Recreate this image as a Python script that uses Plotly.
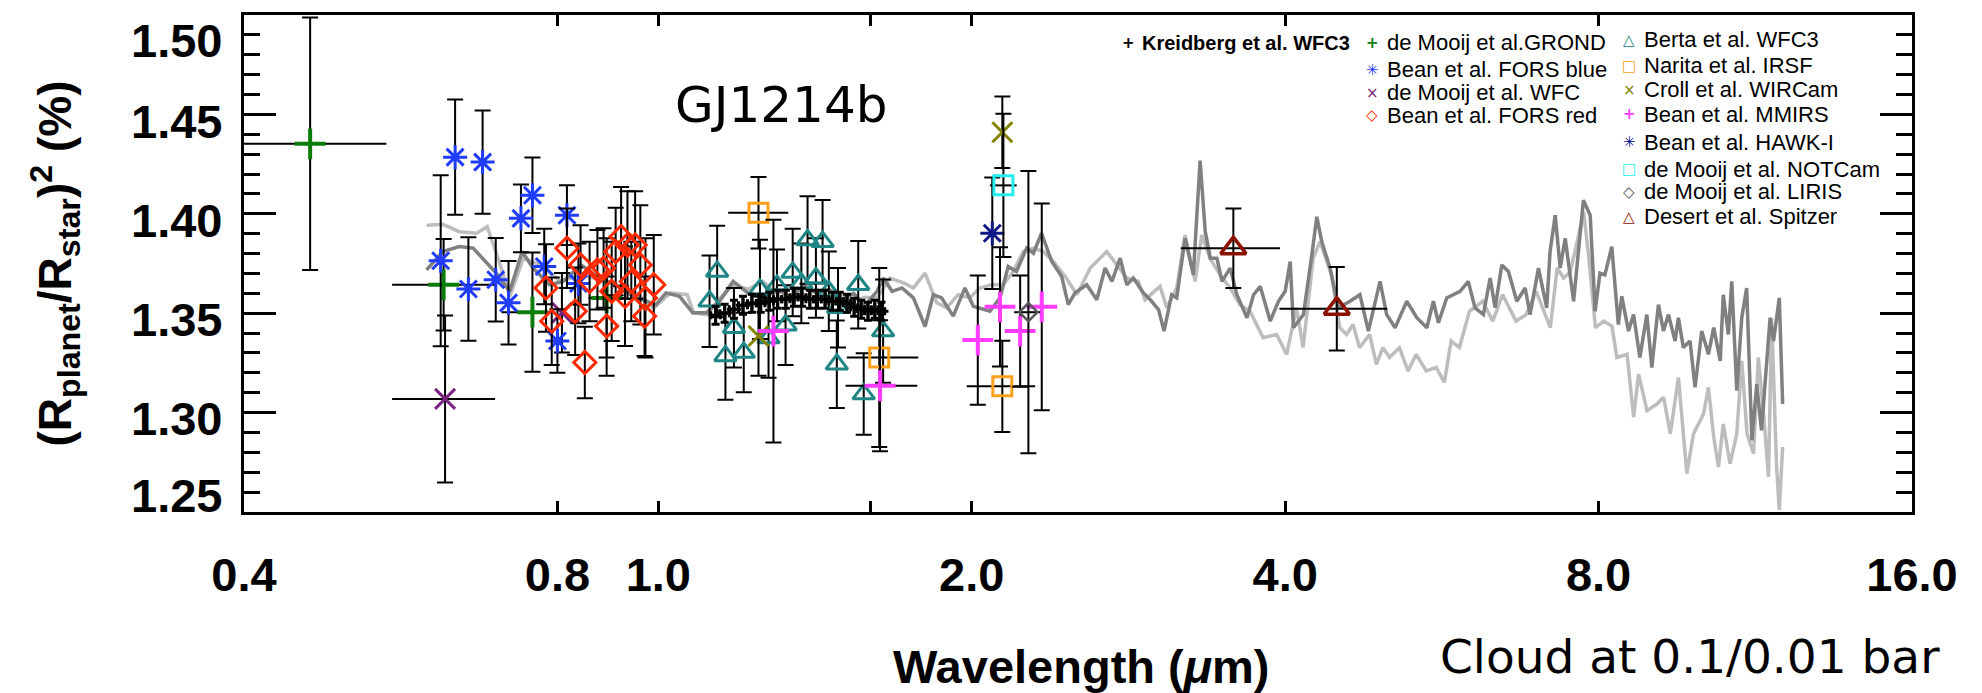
import plotly.graph_objects as go

# ---------------- model transmission spectra ----------------
# dark grey: cloud deck at 0.1 bar, light grey: cloud deck at 0.01 bar
model_dark_wl = [0.599, 0.621, 0.644, 0.664, 0.699, 0.720, 0.740, 0.758, 0.786, 0.810,
                 0.843, 0.878, 0.911, 0.945, 0.995, 1.017, 1.048, 1.079, 1.112, 1.145,
                 1.180, 1.22, 1.26, 1.30, 1.34, 1.38, 1.42, 1.46, 1.50, 1.54,
                 1.58, 1.622, 1.645, 1.677, 1.714, 1.758, 1.804, 1.837, 1.871, 1.920,
                 1.970, 2.007, 2.082, 2.129, 2.168, 2.208, 2.258, 2.292, 2.334, 2.387,
                 2.440, 2.476, 2.513, 2.579, 2.637, 2.686, 2.727, 2.777, 2.818, 2.859,
                 2.924, 2.968, 3.023, 3.060, 3.112, 3.147, 3.206, 3.265, 3.314, 3.352,
                 3.39, 3.44, 3.478, 3.542, 3.595, 3.676, 3.730, 3.786, 3.870, 3.941,
                 4.0, 4.045, 4.074, 4.165, 4.243, 4.290, 4.337, 4.418, 4.499, 4.617,
                 4.719, 4.808, 4.934, 5.007, 5.101, 5.234, 5.352, 5.472, 5.551, 5.614,
                 5.718, 5.889, 5.997, 6.087, 6.201, 6.294, 6.364, 6.459, 6.554, 6.677,
                 6.801, 6.875, 7.004, 7.133, 7.186, 7.268, 7.349, 7.431, 7.570, 7.736,
                 7.853, 7.939, 8.025, 8.112, 8.237, 8.357, 8.421, 8.547, 8.643, 8.765,
                 8.901, 9.0, 9.132, 9.235, 9.337, 9.475, 9.544, 9.650, 9.793, 9.903,
                 10.05, 10.20, 10.32, 10.47, 10.54, 10.66, 10.74, 10.86, 10.98, 11.10,
                 11.23, 11.35, 11.47, 11.60, 11.69, 11.78, 11.86, 11.93, 12.02]
model_dark_depth = [1.3718, 1.381, 1.3835, 1.3827, 1.370, 1.361, 1.381, 1.3727, 1.3643, 1.366,
                    1.3743, 1.3677, 1.3643, 1.3585, 1.3543, 1.3602, 1.3585, 1.3502, 1.3502, 1.356,
                    1.366, 1.360, 1.357, 1.362, 1.358, 1.364, 1.360, 1.362, 1.357, 1.360,
                    1.354, 1.361, 1.3677, 1.361, 1.3627, 1.3577, 1.3433, 1.3593, 1.3577, 1.3485,
                    1.3627, 1.3535, 1.351, 1.3577, 1.3735, 1.371, 1.3827, 1.3802, 1.3902, 1.376,
                    1.3685, 1.3543, 1.3602, 1.3643, 1.3568, 1.3727, 1.366, 1.3777, 1.3643, 1.3677,
                    1.3602, 1.3568, 1.3518, 1.341, 1.3593, 1.3577, 1.3877, 1.3693, 1.4268, 1.391,
                    1.3777, 1.3777, 1.366, 1.3727, 1.3593, 1.3477, 1.3593, 1.3635, 1.346, 1.356,
                    1.361, 1.376, 1.3427, 1.3493, 1.3793, 1.3985, 1.386, 1.3727, 1.3527, 1.356,
                    1.3593, 1.341, 1.366, 1.3493, 1.3427, 1.356, 1.3477, 1.3427, 1.356, 1.3452,
                    1.3577, 1.361, 1.366, 1.3527, 1.3493, 1.3677, 1.3527, 1.3743, 1.371, 1.356,
                    1.3627, 1.3493, 1.3727, 1.3527, 1.381, 1.3993, 1.3727, 1.3877, 1.356, 1.4068,
                    1.3993, 1.351, 1.3702, 1.3693, 1.3835, 1.3443, 1.3585, 1.341, 1.3493, 1.3277,
                    1.3493, 1.3227, 1.3543, 1.341, 1.3493, 1.336, 1.3477, 1.3327, 1.336, 1.3127,
                    1.341, 1.3293, 1.3427, 1.326, 1.3593, 1.3393, 1.366, 1.311, 1.3477, 1.3627,
                    1.286, 1.3143, 1.291, 1.326, 1.3477, 1.336, 1.3477, 1.3577, 1.3043]

model_light_wl = [0.599, 0.621, 0.644, 0.669, 0.685, 0.705, 0.720, 0.742, 0.770, 0.805,
                  0.842, 0.893, 0.947, 0.990, 1.027, 1.066, 1.081, 1.113, 1.147, 1.181,
                  1.22, 1.26, 1.30, 1.34, 1.38, 1.42, 1.46, 1.50, 1.54, 1.58,
                  1.622, 1.669, 1.720, 1.758, 1.804, 1.851, 1.892, 1.941, 1.991, 2.036,
                  2.090, 2.144, 2.192, 2.241, 2.292, 2.343, 2.396, 2.459, 2.524, 2.599,
                  2.696, 2.757, 2.818, 2.891, 2.934, 3.033, 3.079, 3.147, 3.206, 3.278,
                  3.326, 3.387, 3.464, 3.541, 3.619, 3.700, 3.810, 3.925, 4.013, 4.102,
                  4.162, 4.256, 4.320, 4.431, 4.514, 4.581, 4.648, 4.715, 4.822, 4.894,
                  4.965, 5.039, 5.150, 5.248, 5.345, 5.464, 5.586, 5.688, 5.774, 5.881,
                  6.013, 6.191, 6.33, 6.47, 6.665, 6.815, 6.968, 7.19, 7.30, 7.405,
                  7.517, 7.63, 7.74, 7.83, 7.945, 8.09, 8.24, 8.33, 8.52, 8.645,
                  8.74, 8.905, 9.10, 9.237, 9.375, 9.545, 9.725, 9.868, 10.09, 10.2,
                  10.32, 10.43, 10.54, 10.70, 10.86, 10.98, 11.11, 11.27, 11.39, 11.53,
                  11.65, 11.73, 11.86, 11.93, 12.02]
model_light_depth = [1.3943, 1.3947, 1.391, 1.3902, 1.3935, 1.3743, 1.3585, 1.3777, 1.3743, 1.366,
                     1.3693, 1.366, 1.361, 1.3527, 1.3602, 1.3593, 1.3502, 1.3493, 1.3577, 1.3643,
                     1.362, 1.366, 1.360, 1.364, 1.358, 1.362, 1.358, 1.360, 1.356, 1.358,
                     1.3577, 1.3677, 1.3652, 1.3627, 1.3702, 1.3552, 1.3527, 1.3593, 1.3577, 1.3627,
                     1.3643, 1.3643, 1.371, 1.381, 1.3827, 1.381, 1.376, 1.3685, 1.3593, 1.3727,
                     1.381, 1.3743, 1.3677, 1.366, 1.3568, 1.3635, 1.3527, 1.3627, 1.3893, 1.366,
                     1.3893, 1.3777, 1.3693, 1.3627, 1.3543, 1.351, 1.3377, 1.3393, 1.3293, 1.3527,
                     1.3327, 1.3777, 1.386, 1.3693, 1.3427, 1.3393, 1.3443, 1.3327, 1.3393, 1.3243,
                     1.3327, 1.3277, 1.3327, 1.321, 1.3293, 1.321, 1.3227, 1.3152, 1.336, 1.3327,
                     1.351, 1.356, 1.346, 1.3593, 1.346, 1.3493, 1.361, 1.3427, 1.3727, 1.3677,
                     1.371, 1.386, 1.401, 1.3777, 1.3427, 1.346, 1.3435, 1.3277, 1.3293, 1.2977,
                     1.3193, 1.301, 1.3043, 1.3077, 1.2893, 1.3177, 1.2693, 1.2893, 1.2993, 1.3127,
                     1.2877, 1.2727, 1.2943, 1.2743, 1.2893, 1.326, 1.2893, 1.2793, 1.3277, 1.2977,
                     1.2677, 1.3477, 1.2727, 1.251, 1.2827]

# ---------------- observations: wavelength (um), depth (%), errors ----------------
kreidberg_wl = [1.135, 1.158, 1.182, 1.206, 1.230, 1.254, 1.278, 1.302, 1.326, 1.350, 1.374,
                1.398, 1.422, 1.446, 1.470, 1.494, 1.518, 1.542, 1.566, 1.590, 1.614, 1.638]
kreidberg_depth = [1.349, 1.350, 1.352, 1.354, 1.355, 1.355, 1.356, 1.357, 1.357, 1.358, 1.358,
                   1.357, 1.357, 1.357, 1.356, 1.356, 1.355, 1.353, 1.352, 1.351, 1.352, 1.351]
kreidberg_err = [0.0045] * 22
kreidberg_wl_err = [0.012] * 22

grond_wl = [0.463, 0.622, 0.757, 0.892]
grond_depth = [1.4352, 1.3643, 1.3505, 1.3577]
grond_err = [0.0635, 0.023, 0.030, 0.030]
grond_wl_minus = [0.073, 0.067, 0.050, 0.035]
grond_wl_plus = [0.085, 0.075, 0.030, 0.035]

fors_blue_wl = [0.618, 0.638, 0.678, 0.657, 0.698, 0.718, 0.738, 0.757, 0.777, 0.817, 0.838, 0.800]
fors_blue_depth = [1.3764, 1.4285, 1.426, 1.3622, 1.3668, 1.3552, 1.3977, 1.4093, 1.3735, 1.3993, 1.365, 1.336]
fors_blue_err = [0.043, 0.029, 0.026, 0.026, 0.021, 0.021, 0.017, 0.019, 0.019, 0.015, 0.020, 0.016]

wfc_wl = [0.624, 0.808]
wfc_depth = [1.3069, 1.3502]
wfc_err = [0.042, 0.020]
wfc_wl_minus = [0.069, 0.0]
wfc_wl_plus = [0.073, 0.0]

fors_red_wl = [0.817, 0.780, 0.842, 0.859, 0.832, 0.790, 0.874, 0.886, 0.892, 0.850, 0.902,
               0.910, 0.921, 0.934, 0.929, 0.942, 0.950, 0.961, 0.972, 0.990, 0.970]
fors_red_depth = [1.3827, 1.3627, 1.3743, 1.366, 1.351, 1.346, 1.3718, 1.3727, 1.3435, 1.3252, 1.361,
                  1.381, 1.3885, 1.3843, 1.3585, 1.366, 1.3843, 1.3743, 1.3577, 1.3643, 1.3485]
fors_red_err = [0.020, 0.022, 0.020, 0.020, 0.022, 0.022, 0.020, 0.020, 0.025, 0.018, 0.025,
                0.022, 0.025, 0.027, 0.025, 0.020, 0.027, 0.030, 0.030, 0.025, 0.020]

berta_wl = [1.120, 1.139, 1.160, 1.182, 1.208, 1.252, 1.276, 1.300, 1.325, 1.346,
            1.372, 1.391, 1.417, 1.438, 1.458, 1.484, 1.488, 1.556, 1.575, 1.644]
berta_depth = [1.356, 1.371, 1.3285, 1.3427, 1.3302, 1.362, 1.3375, 1.364, 1.344, 1.3705,
               1.365, 1.3868, 1.3677, 1.386, 1.361, 1.3243, 1.3527, 1.3643, 1.3093, 1.341]
berta_err = [0.023, 0.023, 0.022, 0.020, 0.020, 0.025, 0.020, 0.018, 0.020, 0.022,
             0.020, 0.022, 0.020, 0.021, 0.020, 0.022, 0.020, 0.022, 0.0205, 0.026]

narita_wl = [1.248, 1.630, 2.140]
narita_depth = [1.4005, 1.3277, 1.3132]
narita_err = [0.018, 0.045, 0.023]
narita_wl_minus = [0.081, 0.113, 0.162]
narita_wl_plus = [0.085, 0.147, 0.161]

croll_wl = [1.248, 2.140]
croll_depth = [1.3385, 1.441]
croll_err = [0.020, 0.018]

mmirs_wl = [1.290, 1.633, 2.027, 2.129, 2.226, 2.335]
mmirs_depth = [1.341, 1.3135, 1.3365, 1.3532, 1.341, 1.3532]
mmirs_err = [0.056, 0.033, 0.0325, 0.030, 0.028, 0.052]
mmirs_wl_minus = [0.0, 0.120, 0.0, 0.0, 0.0, 0.0]
mmirs_wl_plus = [0.0, 0.140, 0.0, 0.0, 0.0, 0.0]

hawki_wl = [2.093]
hawki_depth = [1.3902]
hawki_err = [0.028]

notcam_wl = [2.145]
notcam_depth = [1.4143]
notcam_err = [0.036]
notcam_wl_minus = [0.063]
notcam_wl_plus = [0.064]

liris_wl = [2.267]
liris_depth = [1.3505]
liris_err = [0.071]
liris_wl_minus = [0.070]
liris_wl_plus = [0.060]

spitzer_wl = [3.567, 4.484]
spitzer_depth = [1.3827, 1.3523]
spitzer_err = [0.020, 0.021]
spitzer_wl_minus = [0.392, 0.534]
spitzer_wl_plus = [0.388, 0.530]

# ---------------- axis ticks ----------------
x_tickvals = [0.4, 0.8, 1.0, 2.0, 4.0, 8.0, 16.0]
x_ticktext = ["0.4", "0.8", "1.0", "2.0", "4.0", "8.0", "16.0"]
x_extra_ticks = [1.6]
y_tickvals = [1.25, 1.30, 1.35, 1.40, 1.45, 1.50]
y_ticktext = ["1.25", "1.30", "1.35", "1.40", "1.45", "1.50"]

# ---------------- legend entries ----------------
legend_labels = ["Kreidberg et al. WFC3",
                 "de Mooij et al.GROND", "Bean et al. FORS blue", "de Mooij et al. WFC", "Bean et al. FORS red",
                 "Berta et al. WFC3", "Narita et al. IRSF", "Croll et al. WIRCam", "Bean et al. MMIRS",
                 "Bean et al. HAWK-I", "de Mooij et al. NOTCam", "de Mooij et al. LIRIS", "Desert et al. Spitzer"]
legend_glyphs = ["+", "+", "\u2733", "\u00d7", "\u25c7", "\u25b3", "\u25a1", "\u00d7", "+",
                 "\u2733", "\u25a1", "\u25c7", "\u25b3"]

GREEN = "#0b7d0b"
BLUE = "#1f3cff"
PURPLE = "#7a2580"
RED = "#ff2a00"
TEAL = "#1f8585"
ORANGE = "#ffa01a"
OLIVE = "#838300"
MAGENTA = "#ff3cff"
NAVY = "#101a86"
CYAN = "#22eeee"
GREY = "#555555"
DARKRED = "#8c1200"
legend_colors = ["black", GREEN, BLUE, PURPLE, RED, TEAL, ORANGE, OLIVE, MAGENTA,
                 NAVY, CYAN, GREY, DARKRED]

W, H = 1982, 693
L, R, T, B = 244, 70, 12, 181
PW, PH = W - L - R, H - T - B


def px_x(px):
    return (px - L) / PW


def px_y(py):
    return (H - B - py) / PH


fig = go.Figure()

fig.add_trace(go.Scatter(x=model_light_wl, y=model_light_depth, mode="lines",
                         line=dict(color="#bdbdbd", width=3.5), showlegend=False))
fig.add_trace(go.Scatter(x=model_dark_wl, y=model_dark_depth, mode="lines",
                         line=dict(color="#808080", width=3.5), showlegend=False))


def add_points(wl, depth, err, symbol, color, size, lw, wl_minus=None, wl_plus=None):
    tr = dict(x=wl, y=depth, mode="markers", showlegend=False,
              marker=dict(symbol=symbol, size=size, color=color,
                          line=dict(color=color, width=lw)),
              error_y=dict(type="data", array=err, color="black", thickness=2, width=8))
    if wl_minus is not None:
        tr["error_x"] = dict(type="data", symmetric=False, array=wl_plus, arrayminus=wl_minus,
                             color="black", thickness=2, width=0)
    fig.add_trace(go.Scatter(**tr))


add_points(grond_wl, grond_depth, grond_err, "cross-thin-open", GREEN, 22, 4, grond_wl_minus, grond_wl_plus)
add_points(wfc_wl, wfc_depth, wfc_err, "x-thin-open", PURPLE, 20, 3, wfc_wl_minus, wfc_wl_plus)
add_points(fors_blue_wl, fors_blue_depth, fors_blue_err, "asterisk-open", BLUE, 20, 3)
add_points(fors_red_wl, fors_red_depth, fors_red_err, "diamond-open", RED, 17, 3)
add_points(berta_wl, berta_depth, berta_err, "triangle-up-open", TEAL, 19, 3)
add_points(narita_wl, narita_depth, narita_err, "square-open", ORANGE, 19, 3, narita_wl_minus, narita_wl_plus)
add_points(croll_wl, croll_depth, croll_err, "x-thin-open", OLIVE, 20, 3)
add_points(mmirs_wl, mmirs_depth, mmirs_err, "cross-thin-open", MAGENTA, 22, 4, mmirs_wl_minus, mmirs_wl_plus)
add_points(hawki_wl, hawki_depth, hawki_err, "asterisk-open", NAVY, 20, 3)
add_points(notcam_wl, notcam_depth, notcam_err, "square-open", CYAN, 19, 3, notcam_wl_minus, notcam_wl_plus)
add_points(liris_wl, liris_depth, liris_err, "diamond-open", GREY, 14, 2.5, liris_wl_minus, liris_wl_plus)
add_points(spitzer_wl, spitzer_depth, spitzer_err, "triangle-up-open", DARKRED, 22, 3.5,
           spitzer_wl_minus, spitzer_wl_plus)

fig.add_trace(go.Scatter(x=kreidberg_wl, y=kreidberg_depth, mode="markers", showlegend=False,
                         marker=dict(symbol="cross-thin-open", size=10, color="black",
                                     line=dict(color="black", width=3)),
                         error_y=dict(type="data", array=kreidberg_err, color="black", thickness=3, width=4),
                         error_x=dict(type="data", array=kreidberg_wl_err, color="black", thickness=3, width=4)))

annotations = []

# y tick labels
y_label_px = [495, 418, 318, 219, 119, 38]
for txt, py in zip(y_ticktext, y_label_px):
    annotations.append(dict(x=px_x(224), y=px_y(py), xref="paper", yref="paper", text=txt,
                            showarrow=False, xanchor="right", yanchor="middle",
                            font=dict(family="Liberation Sans", size=47, color="black", weight="bold")))

# legend
leg_pos = [(1128, 40),
           (1372, 40), (1372, 67), (1372, 90), (1372, 113),
           (1629, 37), (1629, 63), (1629, 87), (1629, 112),
           (1629, 140), (1629, 167), (1629, 190), (1629, 215)]
for i, (lab, gl, col) in enumerate(zip(legend_labels, legend_glyphs, legend_colors)):
    mx, my = leg_pos[i]
    bold = i == 0
    annotations.append(dict(x=px_x(mx), y=px_y(my), xref="paper", yref="paper", text=gl,
                            showarrow=False, xanchor="center", yanchor="middle",
                            font=dict(family="DejaVu Sans", size=15, color=col,
                                      weight="bold" if gl == "+" else "normal")))
    annotations.append(dict(x=px_x(mx + (12 if bold else 13)), y=px_y(my), xref="paper", yref="paper",
                            text=lab, showarrow=False, xanchor="left", yanchor="middle",
                            font=dict(family="Liberation Sans", size=20 if bold else 22, color="black",
                                      weight="bold" if bold else "normal")))

annotations.append(dict(x=px_x(781), y=px_y(103), xref="paper", yref="paper", text="GJ1214b",
                        showarrow=False, xanchor="center", yanchor="middle",
                        font=dict(family="DejaVu Sans", size=50, color="black")))
annotations.append(dict(x=px_x(1081), y=px_y(667), xref="paper", yref="paper",
                        text="Wavelength (<i>\u03bc</i>m)", showarrow=False,
                        xanchor="center", yanchor="middle",
                        font=dict(family="Liberation Sans", size=47, color="black", weight="bold")))
annotations.append(dict(x=px_x(1690), y=px_y(657), xref="paper", yref="paper",
                        text="Cloud at 0.1/0.01 bar", showarrow=False,
                        xanchor="center", yanchor="middle",
                        font=dict(family="DejaVu Sans", size=47, color="black")))
annotations.append(dict(x=px_x(55), y=px_y(262), xref="paper", yref="paper",
                        text="(R<sub>planet</sub>/R<sub>star</sub>)<sup>2</sup> (%)",
                        showarrow=False, textangle=-90, xanchor="center", yanchor="middle",
                        font=dict(family="Liberation Sans", size=46, color="black", weight="bold")))

fig.update_layout(
    width=W, height=H,
    margin=dict(l=L, r=R, t=T, b=B),
    paper_bgcolor="white", plot_bgcolor="white",
    showlegend=False,
    annotations=annotations,
    xaxis=dict(type="log", range=[-0.39794, 1.20412], tickvals=x_tickvals, ticktext=x_ticktext,
               ticks="inside", ticklen=11, tickwidth=2.5, tickcolor="black",
               minor=dict(tickmode="array", tickvals=x_extra_ticks, ticks="inside", ticklen=11,
                          tickwidth=2.5, tickcolor="black", showgrid=False),
               showline=True, linewidth=3, linecolor="black", mirror="ticks",
               showgrid=False, zeroline=False, ticklabelstandoff=20,
               tickfont=dict(family="Liberation Sans", size=47, color="black", weight="bold")),
    yaxis=dict(range=[1.25, 1.50], tickvals=y_tickvals, showticklabels=False,
               ticks="inside", ticklen=32, tickwidth=3, tickcolor="black",
               minor=dict(dtick=0.01, tick0=1.25, ticks="inside", ticklen=16, tickwidth=3,
                          tickcolor="black", showgrid=False),
               showline=True, linewidth=3, linecolor="black", mirror="ticks",
               showgrid=False, zeroline=False),
)

fig.write_html("out.html")
